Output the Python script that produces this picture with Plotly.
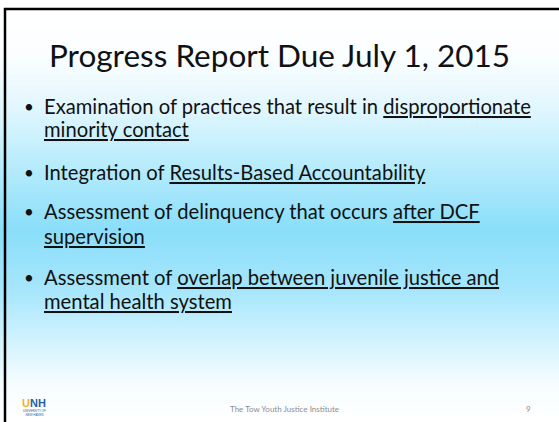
import numpy as np
import plotly.graph_objects as go

W, H = 559, 422

title = "Progress Report Due July 1, 2015"
bullet_lines = [
    ["Examination of practices that result in <u>disproportionate</u>", "<u>minority contact</u>"],
    ["Integration of <u>Results-Based Accountability</u>"],
    ["Assessment of delinquency that occurs <u>after DCF</u>", "<u>supervision</u>"],
    ["Assessment of <u>overlap between juvenile justice and</u>", "<u>mental health system</u>"],
]
footer_text = "The Tow Youth Justice Institute"
page_number = "9"

# background gradient stops (y pixel, colour)
grad_y = [10, 55, 110, 170, 230, 290, 340, 385, 422]
grad_c = ["#ffffff", "#fbfeff", "#e0f6fe", "#b4ebfc", "#8adefa", "#a6e6fc", "#d1f2fe", "#f7fdff", "#ffffff"]

fig = go.Figure()

ys = np.linspace(10, 422, 300)
lo, hi = grad_y[0], grad_y[-1]
cs = [[(g - lo) / (hi - lo), c] for g, c in zip(grad_y, grad_c)]
fig.add_trace(go.Heatmap(x=[5, W], y=ys, z=[[v, v] for v in ys], colorscale=cs,
                         zmin=lo, zmax=hi, showscale=False, hoverinfo="skip"))

font_main = "Lato, Calibri, sans-serif"
ann = []
ann.append(dict(x=279, y=55, text=title, showarrow=False, xanchor="center", yanchor="middle",
                font=dict(family=font_main, size=31.5, color="#111111")))

line_y = [[106, 129], [172], [211, 236], [277, 301]]
for lines, ypos in zip(bullet_lines, line_y):
    ann.append(dict(x=22, y=ypos[0], text="•", showarrow=False, xanchor="left", yanchor="middle",
                    font=dict(family=font_main, size=17, color="#111111")))
    for t, yy in zip(lines, ypos):
        ann.append(dict(x=42, y=yy, text=t, showarrow=False, xanchor="left", yanchor="middle",
                        font=dict(family=font_main, size=20.2, color="#111111")))

ann.append(dict(x=284, y=409, text=footer_text, showarrow=False, xanchor="center", yanchor="middle",
                font=dict(family=font_main, size=8, color="#8c8c8c")))
ann.append(dict(x=528, y=409, text=page_number, showarrow=False, xanchor="center", yanchor="middle",
                font=dict(family=font_main, size=8, color="#8c8c8c")))
# logo
ann.append(dict(x=20, y=403, text="<b><span style='color:#f2b21c'>U</span><span style='color:#1d5fa6'>NH</span></b>",
                showarrow=False, xanchor="left", yanchor="middle",
                font=dict(family="Liberation Sans, Arial", size=11)))
ann.append(dict(x=21, y=412.5, text="UNIVERSITY OF<br>NEW HAVEN", showarrow=False, xanchor="left", yanchor="middle",
                font=dict(family="Liberation Sans, Arial", size=3, color="#1d5fa6")))

shapes = [
    dict(type="line", x0=4, x1=W, y0=9, y1=9, line=dict(color="#000000", width=2.5)),
    dict(type="line", x0=5, x1=5, y0=8, y1=H, line=dict(color="#000000", width=2.5)),
]

fig.update_layout(
    width=W, height=H, margin=dict(l=0, r=0, t=0, b=0),
    paper_bgcolor="#ffffff", plot_bgcolor="#ffffff",
    xaxis=dict(range=[0, W], visible=False, fixedrange=True),
    yaxis=dict(range=[H, 0], visible=False, fixedrange=True),
    annotations=ann, shapes=shapes, showlegend=False,
)

fig.write_html("out.html", config={"displayModeBar": False},
               post_script="document.body.style.margin='0';document.body.style.overflow='hidden';")
